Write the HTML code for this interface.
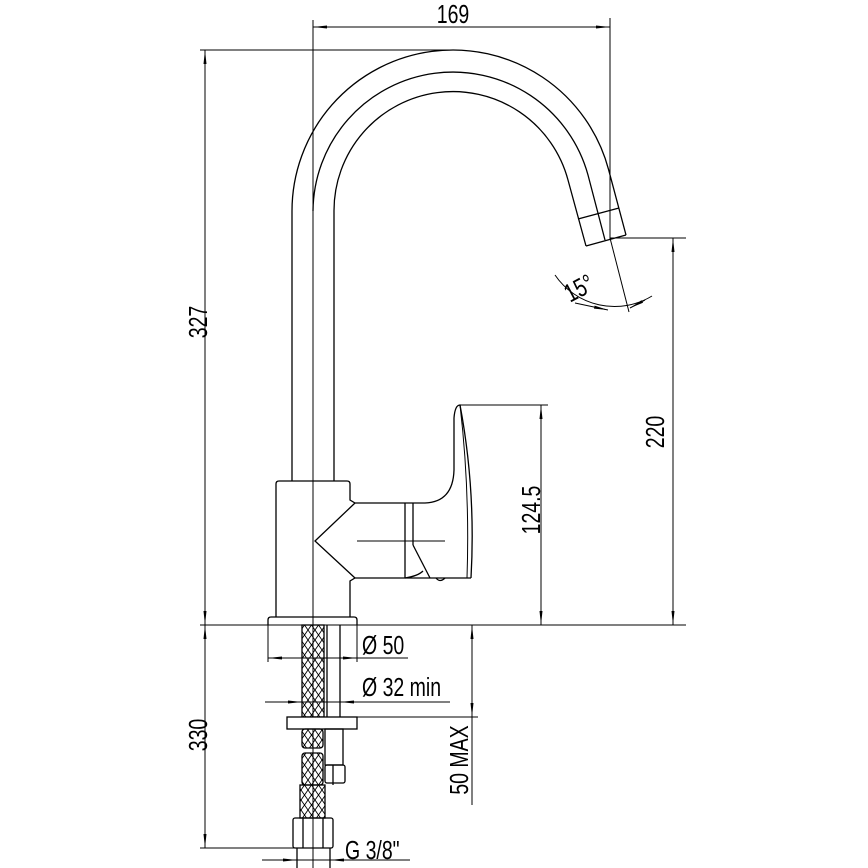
<!DOCTYPE html>
<html><head><meta charset="utf-8"><style>
html,body{margin:0;padding:0;background:#fff}
svg{display:block}
text{font-family:"Liberation Sans",sans-serif;fill:#000}
</style></head><body>
<svg width="868" height="868" viewBox="0 0 868 868" xmlns="http://www.w3.org/2000/svg">
<defs>
<pattern id="hx" width="7" height="10" patternUnits="userSpaceOnUse">
<path d="M0,0 L7,10 M7,0 L0,10" stroke="#000" stroke-width="0.9"/>
</pattern>
<marker id="a" viewBox="0 0 14 4" refX="14" refY="2" markerWidth="14" markerHeight="4" orient="auto-start-reverse" markerUnits="userSpaceOnUse">
<path d="M0,0.5 L14,2 L0,3.5 Z" fill="#000"/>
</marker>
</defs>
<g fill="none" stroke="#000" stroke-width="1.3">
<line x1="313" y1="20" x2="313" y2="868" stroke-width="1"/>
<path d="M292,481 L292,211 A161,161 0 0 1 608.5,169.3 L626,235"/>
<path d="M313,211 A140,140 0 0 1 588,175 L605,240"/>
<path d="M334,481 L334,211 A119,119 0 0 1 568,180 L586,246"/>
<path d="M578,219 L619,208"/>
<path d="M586,246 L626,235"/>
<line x1="610" y1="238" x2="629" y2="312" stroke-width="1"/>
<path d="M555,275 A72,72 0 0 0 652,296" stroke-width="1"/>
<path d="M575,303 L608,310" stroke-width="1" marker-end="url(#a)"/>
<path d="M645,300 L630,308" stroke-width="1" marker-end="url(#a)"/>
<path d="M276,617 L276,484 Q276,481 279,481 L347,481 Q350,481 350,484 L350,500 L355,503 L413,503"/>
<path d="M350,617 L350,581 L355,578 L471,578"/>
<path d="M355,503 L315,541 L355,578"/>
<line x1="405" y1="503" x2="405" y2="578"/>
<line x1="413" y1="503" x2="413" y2="545"/>
<line x1="357" y1="541" x2="445" y2="541" stroke-width="1"/>
<path d="M413,503 L425,503 Q453,502 454,470 L454,418 Q455,405 460,405 Q476,490 471,578"/>
<path d="M460,405 Q470,490 467,578" stroke-width="1"/>
<path d="M413,545 L430,578"/>
<path d="M405,578 Q418,576 423,571"/>
<path d="M436,578 Q440,583 445,578"/>
<path d="M268,625 L268,620 Q268,617 271,617 L354,617 Q357,617 357,620 L357,625"/>
<rect x="302" y="625" width="22" height="92" fill="url(#hx)"/>
<line x1="327" y1="625" x2="327" y2="717"/>
<line x1="340" y1="625" x2="340" y2="717"/>
<rect x="287" y="717" width="70" height="12" fill="#fff"/>
<rect x="302" y="729" width="21" height="19" rx="3" fill="url(#hx)"/>
<rect x="302" y="753" width="21" height="32" rx="3" fill="url(#hx)"/>
<rect x="325" y="729" width="18" height="36"/>
<rect x="325" y="765" width="20" height="18" rx="2"/>
<line x1="333" y1="765" x2="333" y2="785"/>
<rect x="300" y="785" width="25" height="33" fill="url(#hx)"/>
<rect x="293" y="818" width="40" height="30" rx="2"/>
<line x1="303" y1="818" x2="303" y2="848"/>
<line x1="323" y1="818" x2="323" y2="848"/>
<line x1="297" y1="848" x2="297" y2="868"/>
<line x1="330" y1="848" x2="330" y2="868"/>
</g>
<g fill="none" stroke="#000" stroke-width="1">
<line x1="610" y1="18" x2="610" y2="240"/>
<path d="M313,27 L610,27" marker-start="url(#a)" marker-end="url(#a)"/>
<line x1="200" y1="50" x2="453" y2="50"/>
<path d="M205,50 L205,625" marker-start="url(#a)" marker-end="url(#a)"/>
<line x1="200" y1="625" x2="686" y2="625"/>
<line x1="610" y1="238" x2="686" y2="238"/>
<path d="M673,238 L673,625" marker-start="url(#a)" marker-end="url(#a)"/>
<line x1="460" y1="405" x2="548" y2="405"/>
<path d="M541,405 L541,625" marker-start="url(#a)" marker-end="url(#a)"/>
<line x1="268" y1="625" x2="268" y2="662"/>
<line x1="357" y1="625" x2="357" y2="662"/>
<path d="M268,658 L408,658"/>
<path d="M300,658 L268,658" marker-end="url(#a)"/>
<path d="M325,658 L357,658" marker-end="url(#a)"/>
<line x1="265" y1="702" x2="450" y2="702"/>
<path d="M280,702 L302,702" marker-end="url(#a)"/>
<path d="M362,702 L340,702" marker-end="url(#a)"/>
<line x1="357" y1="717" x2="478" y2="717"/>
<line x1="470" y1="625" x2="478" y2="625"/>
<path d="M472,625 L472,717" marker-start="url(#a)" marker-end="url(#a)"/>
<line x1="472" y1="717" x2="472" y2="805"/>
<line x1="200" y1="848" x2="295" y2="848"/>
<path d="M205,625 L205,848" marker-start="url(#a)" marker-end="url(#a)"/>
<line x1="262" y1="860" x2="410" y2="860"/>
<path d="M270,860 L297,860" marker-end="url(#a)"/>
<path d="M355,860 L330,860" marker-end="url(#a)"/>
</g>
<g font-size="26">
<text transform="translate(453,23) scale(0.75,1)" text-anchor="middle">169</text>
<text transform="translate(207,322) rotate(-90) scale(0.75,1)" text-anchor="middle">327</text>
<text transform="translate(664,432) rotate(-90) scale(0.75,1)" text-anchor="middle">220</text>
<text transform="translate(540,510) rotate(-90) scale(0.75,1)" text-anchor="middle">124.5</text>
<text transform="translate(468,760) rotate(-90) scale(0.75,1)" text-anchor="middle">50 MAX</text>
<text transform="translate(207,735) rotate(-90) scale(0.75,1)" text-anchor="middle">330</text>
<text transform="translate(362,654) scale(0.75,1)">Ø 50</text>
<text transform="translate(362,696) scale(0.75,1)">Ø 32  min</text>
<text transform="translate(345,859) scale(0.75,1)">G  3/8"</text>
<text transform="translate(583,296) rotate(-28) scale(0.75,1)" text-anchor="middle">15°</text>
</g>
</svg>
</body></html>
